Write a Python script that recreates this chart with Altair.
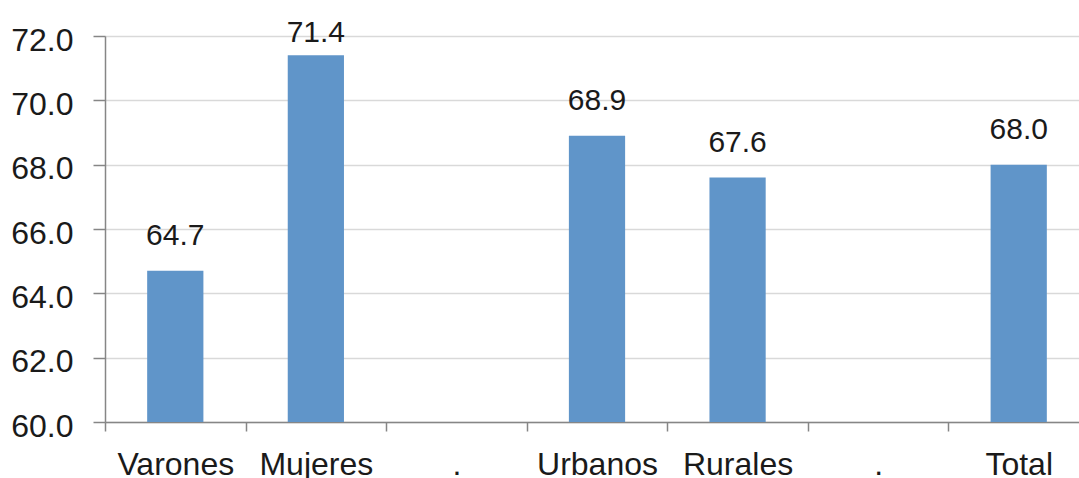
import altair as alt
import pandas as pd

# Categories along the x axis; the two "sep" slots are empty spacer columns
categories = ["Varones", "Mujeres", "sep1", "Urbanos", "Rurales", "sep2", "Total"]
tick_labels = ["Varones", "Mujeres", ".", "Urbanos", "Rurales", ".", "Total"]
values = [64.7, 71.4, None, 68.9, 67.6, None, 68.0]
y_ticks = [60, 62, 64, 66, 68, 70, 72]

df = pd.DataFrame({"cat": categories, "value": values}).dropna()

FONT = "Liberation Sans"
TEXT = "#1a1a1a"
AXIS_GREY = "#868686"
BAR_BLUE = "#6095C9"

PLOT_W = 974          # visible plot width
X_RANGE = 984         # band range (last column runs past the right edge)
PLOT_H = 386
STEP = X_RANGE / len(categories)

cats_js = "[" + ",".join(f"'{c}'" for c in categories) + "]"
labs_js = "[" + ",".join(f"'{l}'" for l in tick_labels) + "]"

x_enc = alt.X(
    "cat:N",
    sort=categories,
    scale=alt.Scale(domain=categories, range=[0, X_RANGE],
                    paddingInner=0.6, paddingOuter=0.3),
    axis=alt.Axis(
        title=None,
        labelExpr=f"{labs_js}[indexof({cats_js}, datum.value)]",
        labelAngle=0,
        labelFont=FONT,
        labelFontSize=32,
        labelColor=TEXT,
        labelPadding=18,
        tickOffset=-STEP / 2,
        labelOffset=STEP / 2,
        ticks=True,
        tickSize=9,
        tickColor=AXIS_GREY,
        tickWidth=1.5,
        domainColor=AXIS_GREY,
        domainWidth=1.5,
        grid=False,
    ),
)

y_scale = alt.Scale(domain=[60, 72], nice=False, zero=False)
y_axis = alt.Axis(
    title=None,
    values=y_ticks,
    format=".1f",
    labelFont=FONT,
    labelFontSize=32,
    labelColor=TEXT,
    labelPadding=20,
    labelOffset=4,
    tickSize=12,
    tickColor=AXIS_GREY,
    tickWidth=1.5,
    domainColor=AXIS_GREY,
    domainWidth=1.5,
    grid=True,
    gridColor="#D9D9D9",
    gridWidth=1.5,
)

# bars rise from the 60.0 baseline of the axis
bars = alt.Chart(df).mark_bar(color=BAR_BLUE).encode(
    x=x_enc,
    y=alt.Y("value:Q", scale=y_scale, axis=y_axis),
    y2=alt.datum(60),
)

# value labels above each bar, kept inside the top of the plot
labels = alt.Chart(df).transform_calculate(
    label_y="min(datum.value, 71.0)"
).mark_text(
    font=FONT, fontSize=30, color=TEXT, baseline="alphabetic", dy=-26
).encode(
    x=alt.X("cat:N", sort=categories),
    y=alt.Y("label_y:Q", scale=y_scale),
    text=alt.Text("value:Q", format=".1f"),
)

chart = alt.layer(bars, labels).properties(
    width=PLOT_W,
    height=PLOT_H,
    autosize=alt.AutoSizeParams(type="none"),
    padding={"left": 105, "top": 36, "right": 0, "bottom": 56},
).configure_view(stroke=None).configure(background="white")

chart.save("out.html", embed_options={"renderer": "svg", "actions": False})
